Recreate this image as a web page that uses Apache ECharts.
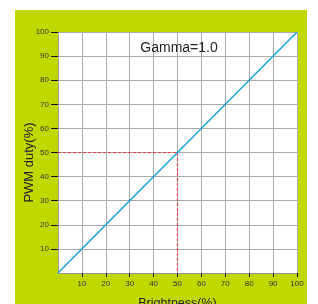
<!DOCTYPE html>
<html>
<head>
<meta charset="utf-8">
<script src="https://cdn.jsdelivr.net/npm/echarts@6/dist/echarts.min.js"></script>
<style>
html,body{margin:0;padding:0;background:#fff;}
#main{width:318px;height:304px;}
</style>
</head>
<body>
<div id="main"></div>
<script>
var brightness = [0, 100];
var pwmDuty = [0, 100];
var guideX = [0, 50, 50];
var guideY = [50, 50, 0];
var titleText = 'Gamma=1.0';

function pairs(xs, ys){
    var out = [];
    for (var i = 0; i < xs.length; i++) out.push([xs[i], ys[i]]);
    return out;
}

var myChart = echarts.init(document.getElementById('main'));
var option = {
    animation: false,
    graphic: [
        {type: 'rect', z: -10, shape: {x: 15, y: 10, width: 292, height: 294}, style: {fill: '#c0d800'}},
        {type: 'rect', z: -9, shape: {x: 58, y: 32, width: 239, height: 241}, style: {fill: '#fff'}}
    ],
    title: {
        text: titleText,
        left: 174, top: 36, textAlign: 'center',
        textStyle: {fontFamily: 'Liberation Sans', fontSize: 14, fontWeight: 'normal', color: '#222'}
    },
    grid: {left: 58, top: 32, width: 239, height: 241, show: false, outerBoundsMode: 'none', containLabel: false},
    xAxis: {
        type: 'value', min: 0, max: 100, interval: 10,
        name: 'Brightness(%)', nameLocation: 'middle', nameGap: 24, nameMoveOverlap: false,
        nameTextStyle: {fontFamily: 'Liberation Sans', fontSize: 12.5, color: '#222', verticalAlign: 'top'},
        axisLine: {show: true, lineStyle: {color: '#999', width: 1}},
        axisTick: {show: true, length: 4, lineStyle: {color: '#111'}},
        axisLabel: {showMinLabel: false, fontFamily: 'Liberation Sans', fontSize: 8, color: '#333', margin: 7},
        splitLine: {show: true, lineStyle: {color: '#aaa', width: 1}}
    },
    yAxis: {
        type: 'value', min: 0, max: 100, interval: 10,
        name: 'PWM duty(%)', nameLocation: 'middle', nameGap: 22, nameMoveOverlap: false,
        nameTextStyle: {fontFamily: 'Liberation Sans', fontSize: 13, color: '#222', padding: [0, 20, 0, 0]},
        axisLine: {show: true, lineStyle: {color: '#999', width: 1}},
        axisTick: {show: true, length: 7, lineStyle: {color: '#111'}},
        axisLabel: {showMinLabel: false, fontFamily: 'Liberation Sans', fontSize: 8, color: '#333', margin: 9},
        splitLine: {show: true, lineStyle: {color: '#aaa', width: 1}}
    },
    series: [
        {
            type: 'line', data: pairs(guideX, guideY), symbol: 'none', z: 3,
            lineStyle: {color: '#e8404a', width: 1.2, type: [3, 2]}
        },
        {
            type: 'line', data: pairs(brightness, pwmDuty), symbol: 'none', z: 4,
            lineStyle: {color: '#1aa3d9', width: 1.5}
        }
    ]
};
myChart.setOption(option);
</script>
</body>
</html>
